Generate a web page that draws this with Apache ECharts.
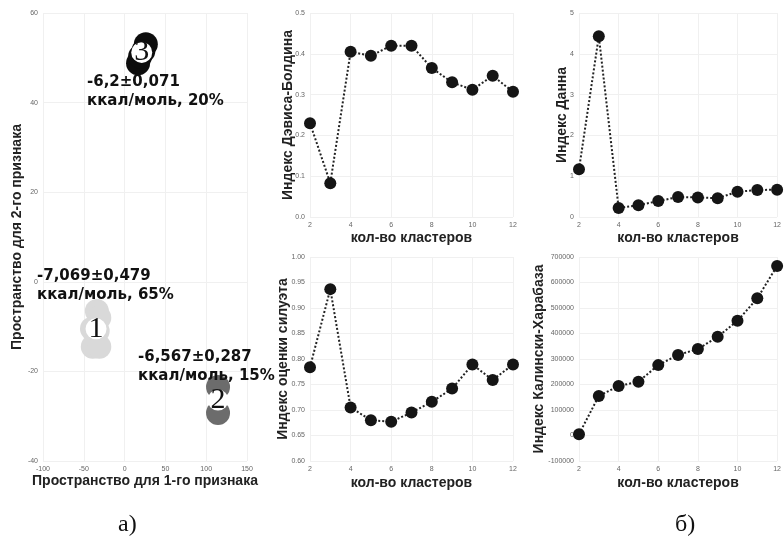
<!DOCTYPE html>
<html>
<head>
<meta charset="utf-8">
<script src="https://cdn.jsdelivr.net/npm/echarts@6/dist/echarts.min.js"></script>
<style>
  html, body { margin: 0; padding: 0; background: #fff; }
  #chart { width: 784px; height: 543px; }
</style>
</head>
<body>
<div id="chart"></div>
<script>
  // число кластеров
  const clusters = [2, 3, 4, 5, 6, 7, 8, 9, 10, 11, 12];
  const dbIndex = [0.23, 0.083, 0.405, 0.395, 0.42, 0.42, 0.365, 0.33, 0.312, 0.346, 0.307];
  const dunnIndex = [1.17, 4.43, 0.22, 0.29, 0.39, 0.49, 0.48, 0.46, 0.62, 0.66, 0.67];
  const silhouette = [0.784, 0.937, 0.705, 0.68, 0.677, 0.695, 0.716, 0.742, 0.789, 0.759, 0.789];
  const chIndex = [5000, 155000, 194000, 211000, 276000, 316000, 339000, 387000, 450000, 538000, 665000];

  // точки кластеров в пространстве признаков
  const cluster1 = [[-34, -6.5], [-31, -8], [-40, -10.5], [-33, -11], [-39, -14.5], [-31, -14.5]];
  const cluster2 = [[114.5, -23.5], [114.5, -29.3]];
  const cluster3 = [[26, 53], [23, 51.5], [16.5, 48.8], [19, 50.3]];
  const clusterLabels = [[-35, -10.5, '1'], [114.5, -26.4, '2'], [21, 51.2, '3']];

  const tickFont = { fontSize: 7, color: '#666', fontFamily: 'Liberation Sans' };
  const nameFont = { fontSize: 14, fontWeight: 'bold', color: '#222', fontFamily: 'Liberation Sans' };
  const gridLine = { show: true, lineStyle: { color: '#f0f0f0', width: 1 } };
  const noteFont = 'bold 15px "DejaVu Sans"';

  function pairs(vals) {
    return clusters.map((k, i) => [k, vals[i]]);
  }

  function valAxis(idx, opt) {
    return Object.assign({
      type: 'value',
      gridIndex: idx,
      axisLine: { show: false },
      axisTick: { show: false },
      splitLine: gridLine,
      axisLabel: Object.assign({ margin: 5, formatter: v => String(v) }, tickFont),
      nameLocation: 'middle',
      nameMoveOverlap: false,
      nameTextStyle: nameFont
    }, opt);
  }

  function kAxis(idx, gap) {
    return valAxis(idx, { min: 2, max: 12, interval: 2, name: 'кол-во кластеров', nameGap: gap });
  }

  function lineSeries(idx, vals) {
    return {
      type: 'line',
      xAxisIndex: idx,
      yAxisIndex: idx,
      data: pairs(vals),
      symbol: 'circle',
      symbolSize: 12,
      itemStyle: { color: '#151515' },
      lineStyle: { color: '#222', width: 2, type: 'dotted' },
      animation: false
    };
  }

  function blob(data, color) {
    return {
      type: 'scatter', xAxisIndex: 0, yAxisIndex: 0,
      data: data, symbolSize: 24,
      itemStyle: { color: color, opacity: 1 },
      animation: false
    };
  }

  const chart = echarts.init(document.getElementById('chart'));
  const option = {
    backgroundColor: '#fff',
    grid: [
      { left: 43, top: 13, width: 204, height: 448 },
      { left: 310, top: 13, width: 203, height: 204 },
      { left: 579, top: 13, width: 203, height: 204 },
      { left: 310, top: 257, width: 203, height: 204 },
      { left: 579, top: 257, width: 203, height: 204 }
    ],
    xAxis: [
      valAxis(0, { min: -100, max: 150, interval: 50, name: 'Пространство для 1-го признака', nameGap: 13 }),
      kAxis(1, 14),
      kAxis(2, 14),
      kAxis(3, 15),
      kAxis(4, 15)
    ],
    yAxis: [
      valAxis(0, { min: -40, max: 60, interval: 20, name: 'Пространство для 2-го признака', nameGap: 19 }),
      valAxis(1, { min: 0, max: 0.5, interval: 0.1, name: 'Индекс Дэвиса-Болдина', nameGap: 15,
        axisLabel: Object.assign({ margin: 5, formatter: v => v.toFixed(1) }, tickFont) }),
      valAxis(2, { min: 0, max: 5, interval: 1, name: 'Индекс Данна', nameGap: 10 }),
      valAxis(3, { min: 0.6, max: 1.0, interval: 0.05, name: 'Индекс оценки силуэта', nameGap: 20,
        axisLabel: Object.assign({ margin: 5, formatter: v => v.toFixed(2) }, tickFont) }),
      valAxis(4, { min: -100000, max: 700000, interval: 100000, name: 'Индекс Калински-Харабаза', nameGap: 33 })
    ],
    series: [
      blob(cluster1, '#d9d9d9'),
      blob(cluster2, '#6c6c6c'),
      blob(cluster3, '#0d0d0d'),
      {
        type: 'scatter', xAxisIndex: 0, yAxisIndex: 0,
        data: clusterLabels, symbolSize: 21,
        itemStyle: { color: '#fff', opacity: 1 },
        label: {
          show: true, position: 'inside', formatter: p => p.data[2],
          fontFamily: 'Liberation Serif', fontSize: 30, color: '#111'
        },
        animation: false
      },
      lineSeries(1, dbIndex),
      lineSeries(2, dunnIndex),
      lineSeries(3, silhouette),
      lineSeries(4, chIndex)
    ],
    graphic: [
      { type: 'text', z: 100, left: 87, top: 73, style: { text: '-6,2±0,071\nккал/моль, 20%', font: noteFont, lineHeight: 19, fill: '#111' } },
      { type: 'text', z: 100, left: 37, top: 267, style: { text: '-7,069±0,479\nккал/моль, 65%', font: noteFont, lineHeight: 19, fill: '#111' } },
      { type: 'text', z: 100, left: 138, top: 348, style: { text: '-6,567±0,287\nккал/моль, 15%', font: noteFont, lineHeight: 19, fill: '#111' } },
      { type: 'text', z: 100, left: 118, top: 513, style: { text: 'а)', font: '24px "Liberation Serif"', fill: '#111' } },
      { type: 'text', z: 100, left: 675, top: 513, style: { text: 'б)', font: '24px "Liberation Serif"', fill: '#111' } }
    ]
  };
  chart.setOption(option);
  window.addEventListener('resize', chart.resize);
</script>
</body>
</html>
